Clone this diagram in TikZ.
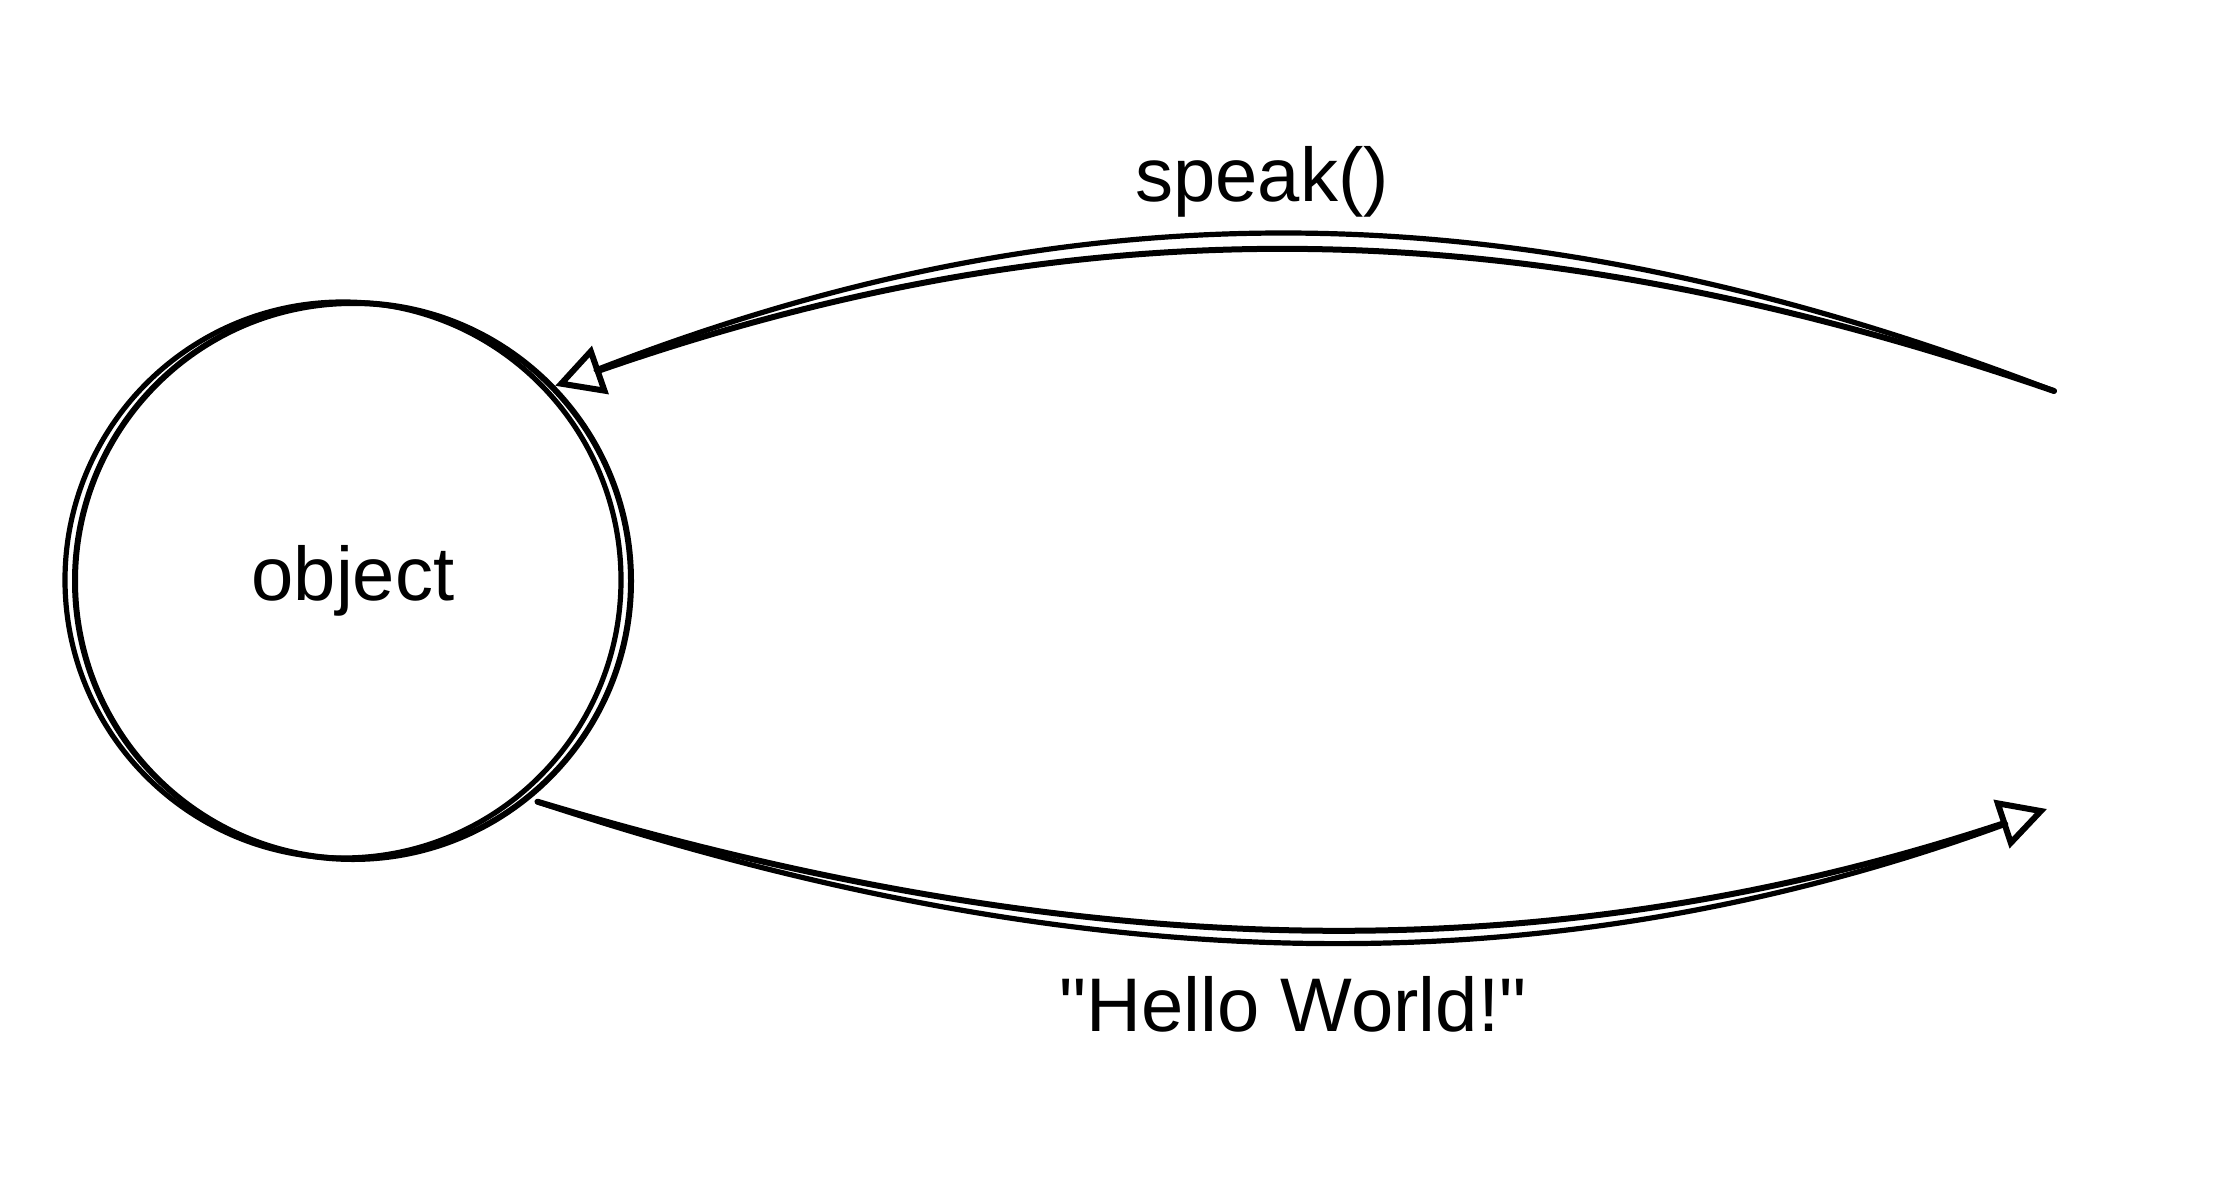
\documentclass[tikz,border=0pt]{standalone}
\usepackage{fontspec}
\setmainfont{Liberation Sans}[Ligatures=TeXOff]
\usetikzlibrary{arrows.meta}

\begin{document}
\begin{tikzpicture}[x=0.5pt, y=-0.5pt,
  font=\fontsize{38}{46}\selectfont,
  line cap=round, line join=round,
  bubble/.style={draw, circle, line width=3pt, minimum size=278pt},
  rough/.style={line width=2.6pt},
  flow/.style={line width=3pt, -{Triangle[open, length=24pt, width=25pt]}},
  lbl/.style={anchor=base, inner sep=0pt},
]
\useasboundingbox (0,0) rectangle (2214,1198);

\node[bubble] (obj) at (353,581) {object};
\draw[rough] (343,580) circle [radius=139pt];

\coordinate (spk) at (2054,391);
\coordinate (msg) at (2047,809);

\draw[flow] (spk) .. controls (1515,205) and (1075,205) .. (obj.44);
\draw[rough, shorten >=22pt] (spk) .. controls (1515,184) and (1075,184) .. (obj.44);
\node[lbl] (call) at (1262,202) {speak()};

\draw[flow, shorten <=4pt] (obj.-51) .. controls (1097,970) and (1559,970) .. (msg);
\draw[rough, shorten <=4pt, shorten >=22pt] (obj.-51) .. controls (1097,987) and (1559,987) .. (msg);
\node[lbl] (reply) at (1293,1031) {"Hello World!"};
\end{tikzpicture}
\end{document}
